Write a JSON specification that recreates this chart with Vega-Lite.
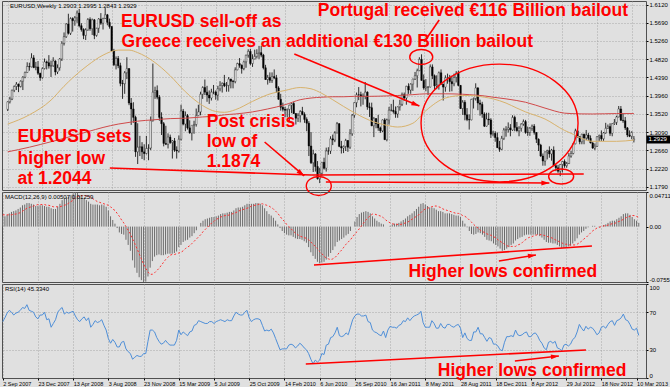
{
"$schema":"https://vega.github.io/schema/vega-lite/v6.json",
"background":"#e0e0e0",
"padding":{"left":0,"top":0,"right":0,"bottom":0},
"bounds":"flush",
"spacing":2,
"config":{
"view":{"stroke":"#505050","strokeWidth":1},
"font":"Liberation Sans",
"axis":{"labelFont":"Liberation Sans","labelFontSize":6,"labelColor":"#000000","tickColor":"#000000","domain":false,"gridColor":"#9a9a9a","gridDash":[1,2],"gridWidth":0.8,"labelOverlap":false}
},
"datasets":{
"px":[
{"d":"2007-09-02","o":1.363,"h":1.382,"l":1.359,"c":1.381,"m":0.014,"s":0.016,"r":60},
{"d":"2007-09-09","o":1.381,"h":1.3925,"l":1.377,"c":1.3875,"m":0.014,"s":0.016,"r":64},
{"d":"2007-09-16","o":1.3875,"h":1.41,"l":1.385,"c":1.4085,"m":0.016,"s":0.016,"r":69},
{"d":"2007-09-23","o":1.4085,"h":1.42,"l":1.404,"c":1.4175,"m":0.018,"s":0.016,"r":72},
{"d":"2007-09-30","o":1.4175,"h":1.428,"l":1.409,"c":1.423,"m":0.02,"s":0.016,"r":70},
{"d":"2007-10-07","o":1.423,"h":1.4245,"l":1.404,"c":1.4175,"m":0.021,"s":0.017,"r":67},
{"d":"2007-10-14","o":1.4175,"h":1.432,"l":1.415,"c":1.43,"m":0.022,"s":0.017,"r":69},
{"d":"2007-10-21","o":1.43,"h":1.442,"l":1.409,"c":1.4395,"m":0.024,"s":0.018,"r":70},
{"d":"2007-10-28","o":1.4395,"h":1.453,"l":1.437,"c":1.4505,"m":0.026,"s":0.019,"r":72},
{"d":"2007-11-04","o":1.4505,"h":1.475,"l":1.45,"c":1.465,"m":0.029,"s":0.021,"r":75},
{"d":"2007-11-11","o":1.465,"h":1.474,"l":1.455,"c":1.464,"m":0.03,"s":0.023,"r":74},
{"d":"2007-11-18","o":1.464,"h":1.4965,"l":1.463,"c":1.4855,"m":0.032,"s":0.025,"r":78},
{"d":"2007-11-25","o":1.4855,"h":1.492,"l":1.461,"c":1.4625,"m":0.032,"s":0.026,"r":72},
{"d":"2007-12-02","o":1.4625,"h":1.476,"l":1.456,"c":1.464,"m":0.031,"s":0.027,"r":71},
{"d":"2007-12-09","o":1.464,"h":1.478,"l":1.445,"c":1.449,"m":0.03,"s":0.028,"r":70},
{"d":"2007-12-16","o":1.449,"h":1.45,"l":1.431,"c":1.4385,"m":0.028,"s":0.029,"r":65},
{"d":"2007-12-23","o":1.4385,"h":1.463,"l":1.436,"c":1.46,"m":0.028,"s":0.03,"r":63},
{"d":"2007-12-30","o":1.46,"h":1.484,"l":1.458,"c":1.476,"m":0.029,"s":0.03,"r":67},
{"d":"2008-01-06","o":1.476,"h":1.479,"l":1.458,"c":1.474,"m":0.029,"s":0.03,"r":67},
{"d":"2008-01-13","o":1.474,"h":1.492,"l":1.46,"c":1.466,"m":0.028,"s":0.03,"r":70},
{"d":"2008-01-20","o":1.466,"h":1.479,"l":1.44,"c":1.467,"m":0.027,"s":0.029,"r":62},
{"d":"2008-01-27","o":1.467,"h":1.487,"l":1.464,"c":1.478,"m":0.027,"s":0.029,"r":63},
{"d":"2008-02-03","o":1.478,"h":1.48,"l":1.444,"c":1.452,"m":0.025,"s":0.028,"r":54},
{"d":"2008-02-10","o":1.452,"h":1.47,"l":1.447,"c":1.462,"m":0.024,"s":0.027,"r":58},
{"d":"2008-02-17","o":1.462,"h":1.485,"l":1.455,"c":1.483,"m":0.024,"s":0.027,"r":62},
{"d":"2008-02-24","o":1.483,"h":1.525,"l":1.478,"c":1.52,"m":0.027,"s":0.027,"r":70},
{"d":"2008-03-02","o":1.52,"h":1.546,"l":1.515,"c":1.536,"m":0.031,"s":0.027,"r":73},
{"d":"2008-03-09","o":1.536,"h":1.568,"l":1.533,"c":1.566,"m":0.036,"s":0.028,"r":75},
{"d":"2008-03-16","o":1.566,"h":1.5905,"l":1.541,"c":1.544,"m":0.038,"s":0.029,"r":68},
{"d":"2008-03-23","o":1.544,"h":1.582,"l":1.54,"c":1.579,"m":0.04,"s":0.03,"r":70},
{"d":"2008-03-30","o":1.579,"h":1.582,"l":1.548,"c":1.574,"m":0.041,"s":0.032,"r":69},
{"d":"2008-04-06","o":1.574,"h":1.585,"l":1.562,"c":1.581,"m":0.043,"s":0.034,"r":70},
{"d":"2008-04-13","o":1.581,"h":1.598,"l":1.569,"c":1.592,"m":0.045,"s":0.036,"r":71},
{"d":"2008-04-20","o":1.592,"h":1.602,"l":1.558,"c":1.562,"m":0.0471,"s":0.039,"r":66},
{"d":"2008-04-27","o":1.562,"h":1.568,"l":1.548,"c":1.553,"m":0.046,"s":0.041,"r":62},
{"d":"2008-05-04","o":1.553,"h":1.556,"l":1.53,"c":1.539,"m":0.042,"s":0.042,"r":60},
{"d":"2008-05-11","o":1.539,"h":1.556,"l":1.528,"c":1.552,"m":0.039,"s":0.042,"r":63},
{"d":"2008-05-18","o":1.552,"h":1.58,"l":1.55,"c":1.577,"m":0.038,"s":0.042,"r":65},
{"d":"2008-05-25","o":1.577,"h":1.582,"l":1.55,"c":1.555,"m":0.036,"s":0.042,"r":61},
{"d":"2008-06-01","o":1.555,"h":1.579,"l":1.54,"c":1.576,"m":0.034,"s":0.041,"r":64},
{"d":"2008-06-08","o":1.576,"h":1.578,"l":1.53,"c":1.539,"m":0.031,"s":0.04,"r":54},
{"d":"2008-06-15","o":1.539,"h":1.557,"l":1.536,"c":1.556,"m":0.03,"s":0.038,"r":57},
{"d":"2008-06-22","o":1.556,"h":1.58,"l":1.545,"c":1.578,"m":0.03,"s":0.036,"r":61},
{"d":"2008-06-29","o":1.578,"h":1.592,"l":1.564,"c":1.568,"m":0.03,"s":0.034,"r":59},
{"d":"2008-07-06","o":1.568,"h":1.581,"l":1.553,"c":1.579,"m":0.029,"s":0.033,"r":60},
{"d":"2008-07-13","o":1.579,"h":1.604,"l":1.578,"c":1.588,"m":0.03,"s":0.032,"r":62},
{"d":"2008-07-20","o":1.588,"h":1.59,"l":1.563,"c":1.57,"m":0.029,"s":0.031,"r":56},
{"d":"2008-07-27","o":1.57,"h":1.579,"l":1.555,"c":1.56,"m":0.027,"s":0.03,"r":51},
{"d":"2008-08-03","o":1.56,"h":1.561,"l":1.501,"c":1.502,"m":0.022,"s":0.029,"r":42},
{"d":"2008-08-10","o":1.502,"h":1.507,"l":1.466,"c":1.469,"m":0.014,"s":0.027,"r":37},
{"d":"2008-08-17","o":1.469,"h":1.489,"l":1.458,"c":1.484,"m":0.009,"s":0.024,"r":41},
{"d":"2008-08-24","o":1.484,"h":1.49,"l":1.461,"c":1.467,"m":0.004,"s":0.022,"r":38},
{"d":"2008-08-31","o":1.467,"h":1.474,"l":1.418,"c":1.425,"m":-0.002,"s":0.018,"r":33},
{"d":"2008-09-07","o":1.425,"h":1.433,"l":1.388,"c":1.424,"m":-0.008,"s":0.014,"r":33},
{"d":"2008-09-14","o":1.424,"h":1.454,"l":1.4,"c":1.45,"m":-0.01,"s":0.009,"r":38},
{"d":"2008-09-21","o":1.45,"h":1.487,"l":1.435,"c":1.46,"m":-0.011,"s":0.005,"r":39},
{"d":"2008-09-28","o":1.46,"h":1.461,"l":1.373,"c":1.378,"m":-0.018,"s":0,"r":31},
{"d":"2008-10-05","o":1.378,"h":1.39,"l":1.326,"c":1.364,"m":-0.025,"s":-0.005,"r":28},
{"d":"2008-10-12","o":1.364,"h":1.38,"l":1.331,"c":1.344,"m":-0.033,"s":-0.01,"r":26},
{"d":"2008-10-19","o":1.344,"h":1.348,"l":1.25,"c":1.262,"m":-0.046,"s":-0.017,"r":20},
{"d":"2008-10-26","o":1.262,"h":1.33,"l":1.233,"c":1.273,"m":-0.056,"s":-0.023,"r":22},
{"d":"2008-11-02","o":1.273,"h":1.3,"l":1.252,"c":1.274,"m":-0.063,"s":-0.03,"r":24},
{"d":"2008-11-09","o":1.274,"h":1.285,"l":1.245,"c":1.262,"m":-0.069,"s":-0.037,"r":23},
{"d":"2008-11-16","o":1.262,"h":1.28,"l":1.242,"c":1.258,"m":-0.073,"s":-0.044,"r":23},
{"d":"2008-11-23","o":1.258,"h":1.3,"l":1.256,"c":1.27,"m":-0.0755,"s":-0.051,"r":26},
{"d":"2008-11-30","o":1.27,"h":1.28,"l":1.242,"c":1.271,"m":-0.075,"s":-0.057,"r":26},
{"d":"2008-12-07","o":1.271,"h":1.346,"l":1.266,"c":1.336,"m":-0.068,"s":-0.062,"r":39},
{"d":"2008-12-14","o":1.336,"h":1.472,"l":1.334,"c":1.404,"m":-0.056,"s":-0.065,"r":51},
{"d":"2008-12-21","o":1.404,"h":1.417,"l":1.388,"c":1.408,"m":-0.047,"s":-0.065,"r":51},
{"d":"2008-12-28","o":1.408,"h":1.42,"l":1.387,"c":1.392,"m":-0.041,"s":-0.063,"r":49},
{"d":"2009-01-04","o":1.392,"h":1.397,"l":1.336,"c":1.344,"m":-0.039,"s":-0.06,"r":43},
{"d":"2009-01-11","o":1.344,"h":1.356,"l":1.302,"c":1.329,"m":-0.038,"s":-0.057,"r":39},
{"d":"2009-01-18","o":1.329,"h":1.333,"l":1.275,"c":1.282,"m":-0.039,"s":-0.053,"r":36},
{"d":"2009-01-25","o":1.282,"h":1.324,"l":1.278,"c":1.28,"m":-0.039,"s":-0.049,"r":37},
{"d":"2009-02-01","o":1.28,"h":1.306,"l":1.27,"c":1.297,"m":-0.038,"s":-0.045,"r":40},
{"d":"2009-02-08","o":1.297,"h":1.303,"l":1.281,"c":1.284,"m":-0.037,"s":-0.042,"r":37},
{"d":"2009-02-15","o":1.284,"h":1.29,"l":1.246,"c":1.288,"m":-0.037,"s":-0.039,"r":35},
{"d":"2009-02-22","o":1.288,"h":1.295,"l":1.262,"c":1.266,"m":-0.037,"s":-0.038,"r":35},
{"d":"2009-03-01","o":1.266,"h":1.275,"l":1.246,"c":1.264,"m":-0.036,"s":-0.038,"r":35},
{"d":"2009-03-08","o":1.264,"h":1.301,"l":1.26,"c":1.292,"m":-0.034,"s":-0.037,"r":40},
{"d":"2009-03-15","o":1.292,"h":1.374,"l":1.289,"c":1.359,"m":-0.028,"s":-0.036,"r":51},
{"d":"2009-03-22","o":1.359,"h":1.364,"l":1.325,"c":1.328,"m":-0.025,"s":-0.035,"r":46},
{"d":"2009-03-29","o":1.328,"h":1.358,"l":1.311,"c":1.348,"m":-0.021,"s":-0.033,"r":49},
{"d":"2009-04-05","o":1.348,"h":1.352,"l":1.315,"c":1.319,"m":-0.019,"s":-0.03,"r":47},
{"d":"2009-04-12","o":1.319,"h":1.337,"l":1.305,"c":1.307,"m":-0.018,"s":-0.028,"r":45},
{"d":"2009-04-19","o":1.307,"h":1.324,"l":1.289,"c":1.325,"m":-0.015,"s":-0.026,"r":49},
{"d":"2009-04-26","o":1.325,"h":1.336,"l":1.305,"c":1.327,"m":-0.013,"s":-0.023,"r":50},
{"d":"2009-05-03","o":1.327,"h":1.365,"l":1.322,"c":1.348,"m":-0.009,"s":-0.02,"r":56},
{"d":"2009-05-10","o":1.348,"h":1.374,"l":1.347,"c":1.357,"m":-0.005,"s":-0.017,"r":57},
{"d":"2009-05-17","o":1.357,"h":1.405,"l":1.349,"c":1.399,"m":0,"s":-0.014,"r":61},
{"d":"2009-05-24","o":1.399,"h":1.418,"l":1.388,"c":1.415,"m":0.005,"s":-0.011,"r":60},
{"d":"2009-05-31","o":1.415,"h":1.434,"l":1.397,"c":1.404,"m":0.008,"s":-0.007,"r":59},
{"d":"2009-06-07","o":1.404,"h":1.419,"l":1.381,"c":1.397,"m":0.01,"s":-0.004,"r":58},
{"d":"2009-06-14","o":1.397,"h":1.408,"l":1.376,"c":1.39,"m":0.011,"s":-0.001,"r":58},
{"d":"2009-06-21","o":1.39,"h":1.412,"l":1.384,"c":1.404,"m":0.012,"s":0.002,"r":60},
{"d":"2009-06-28","o":1.404,"h":1.421,"l":1.399,"c":1.404,"m":0.013,"s":0.005,"r":60},
{"d":"2009-07-05","o":1.404,"h":1.408,"l":1.386,"c":1.397,"m":0.013,"s":0.007,"r":58},
{"d":"2009-07-12","o":1.397,"h":1.419,"l":1.384,"c":1.412,"m":0.014,"s":0.01,"r":60},
{"d":"2009-07-19","o":1.412,"h":1.43,"l":1.406,"c":1.42,"m":0.015,"s":0.011,"r":61},
{"d":"2009-07-26","o":1.42,"h":1.427,"l":1.403,"c":1.425,"m":0.017,"s":0.013,"r":62},
{"d":"2009-08-02","o":1.425,"h":1.445,"l":1.416,"c":1.419,"m":0.018,"s":0.014,"r":61},
{"d":"2009-08-09","o":1.419,"h":1.428,"l":1.405,"c":1.42,"m":0.018,"s":0.015,"r":60},
{"d":"2009-08-16","o":1.42,"h":1.44,"l":1.405,"c":1.435,"m":0.019,"s":0.015,"r":62},
{"d":"2009-08-23","o":1.435,"h":1.436,"l":1.413,"c":1.43,"m":0.02,"s":0.016,"r":61},
{"d":"2009-08-30","o":1.43,"h":1.433,"l":1.413,"c":1.429,"m":0.02,"s":0.017,"r":61},
{"d":"2009-09-06","o":1.429,"h":1.463,"l":1.425,"c":1.457,"m":0.022,"s":0.018,"r":66},
{"d":"2009-09-13","o":1.457,"h":1.474,"l":1.456,"c":1.472,"m":0.025,"s":0.019,"r":70},
{"d":"2009-09-20","o":1.472,"h":1.485,"l":1.462,"c":1.468,"m":0.026,"s":0.021,"r":68},
{"d":"2009-09-27","o":1.468,"h":1.47,"l":1.448,"c":1.46,"m":0.026,"s":0.022,"r":67},
{"d":"2009-10-04","o":1.46,"h":1.479,"l":1.456,"c":1.476,"m":0.027,"s":0.023,"r":67},
{"d":"2009-10-11","o":1.476,"h":1.493,"l":1.462,"c":1.492,"m":0.029,"s":0.024,"r":70},
{"d":"2009-10-18","o":1.492,"h":1.506,"l":1.486,"c":1.501,"m":0.031,"s":0.025,"r":72},
{"d":"2009-10-25","o":1.501,"h":1.507,"l":1.468,"c":1.472,"m":0.031,"s":0.026,"r":64},
{"d":"2009-11-01","o":1.472,"h":1.494,"l":1.464,"c":1.483,"m":0.031,"s":0.028,"r":60},
{"d":"2009-11-08","o":1.483,"h":1.505,"l":1.482,"c":1.489,"m":0.031,"s":0.029,"r":62},
{"d":"2009-11-15","o":1.489,"h":1.506,"l":1.484,"c":1.496,"m":0.032,"s":0.029,"r":63},
{"d":"2009-11-22","o":1.496,"h":1.514,"l":1.483,"c":1.498,"m":0.032,"s":0.03,"r":63},
{"d":"2009-11-29","o":1.498,"h":1.514,"l":1.487,"c":1.492,"m":0.031,"s":0.031,"r":62},
{"d":"2009-12-06","o":1.492,"h":1.495,"l":1.458,"c":1.462,"m":0.029,"s":0.031,"r":56},
{"d":"2009-12-13","o":1.462,"h":1.469,"l":1.433,"c":1.434,"m":0.025,"s":0.03,"r":50},
{"d":"2009-12-20","o":1.434,"h":1.445,"l":1.422,"c":1.439,"m":0.021,"s":0.029,"r":51},
{"d":"2009-12-27","o":1.439,"h":1.451,"l":1.426,"c":1.432,"m":0.017,"s":0.028,"r":50},
{"d":"2010-01-03","o":1.432,"h":1.451,"l":1.426,"c":1.441,"m":0.015,"s":0.026,"r":52},
{"d":"2010-01-10","o":1.441,"h":1.458,"l":1.435,"c":1.438,"m":0.012,"s":0.024,"r":48},
{"d":"2010-01-17","o":1.438,"h":1.445,"l":1.403,"c":1.414,"m":0.008,"s":0.021,"r":42},
{"d":"2010-01-24","o":1.414,"h":1.418,"l":1.386,"c":1.387,"m":0.003,"s":0.018,"r":36},
{"d":"2010-01-31","o":1.387,"h":1.4,"l":1.36,"c":1.368,"m":-0.002,"s":0.014,"r":30},
{"d":"2010-02-07","o":1.368,"h":1.379,"l":1.358,"c":1.363,"m":-0.006,"s":0.01,"r":31},
{"d":"2010-02-14","o":1.363,"h":1.369,"l":1.344,"c":1.361,"m":-0.009,"s":0.007,"r":31},
{"d":"2010-02-21","o":1.361,"h":1.365,"l":1.344,"c":1.363,"m":-0.011,"s":0.003,"r":31},
{"d":"2010-02-28","o":1.363,"h":1.374,"l":1.333,"c":1.373,"m":-0.012,"s":0,"r":35},
{"d":"2010-03-07","o":1.373,"h":1.379,"l":1.354,"c":1.377,"m":-0.012,"s":-0.003,"r":36},
{"d":"2010-03-14","o":1.377,"h":1.381,"l":1.352,"c":1.353,"m":-0.014,"s":-0.006,"r":35},
{"d":"2010-03-21","o":1.353,"h":1.354,"l":1.327,"c":1.342,"m":-0.016,"s":-0.009,"r":32},
{"d":"2010-03-28","o":1.342,"h":1.354,"l":1.333,"c":1.348,"m":-0.017,"s":-0.011,"r":34},
{"d":"2010-04-04","o":1.348,"h":1.361,"l":1.332,"c":1.358,"m":-0.017,"s":-0.013,"r":37},
{"d":"2010-04-11","o":1.358,"h":1.369,"l":1.349,"c":1.351,"m":-0.018,"s":-0.014,"r":35},
{"d":"2010-04-18","o":1.351,"h":1.356,"l":1.331,"c":1.339,"m":-0.02,"s":-0.015,"r":32},
{"d":"2010-04-25","o":1.339,"h":1.344,"l":1.311,"c":1.33,"m":-0.022,"s":-0.016,"r":30},
{"d":"2010-05-02","o":1.33,"h":1.335,"l":1.252,"c":1.276,"m":-0.028,"s":-0.018,"r":26},
{"d":"2010-05-09","o":1.276,"h":1.309,"l":1.233,"c":1.236,"m":-0.035,"s":-0.021,"r":20},
{"d":"2010-05-16","o":1.236,"h":1.267,"l":1.214,"c":1.257,"m":-0.04,"s":-0.024,"r":15},
{"d":"2010-05-23","o":1.257,"h":1.259,"l":1.215,"c":1.227,"m":-0.044,"s":-0.027,"r":19},
{"d":"2010-05-30","o":1.227,"h":1.24,"l":1.196,"c":1.198,"m":-0.048,"s":-0.03,"r":17},
{"d":"2010-06-06","o":1.198,"h":1.224,"l":1.1876,"c":1.211,"m":-0.05,"s":-0.034,"r":19},
{"d":"2010-06-13","o":1.211,"h":1.238,"l":1.204,"c":1.237,"m":-0.049,"s":-0.037,"r":26},
{"d":"2010-06-20","o":1.237,"h":1.248,"l":1.22,"c":1.223,"m":-0.048,"s":-0.04,"r":25},
{"d":"2010-06-27","o":1.223,"h":1.272,"l":1.215,"c":1.264,"m":-0.045,"s":-0.043,"r":35},
{"d":"2010-07-04","o":1.264,"h":1.273,"l":1.255,"c":1.264,"m":-0.041,"s":-0.044,"r":36},
{"d":"2010-07-11","o":1.264,"h":1.299,"l":1.257,"c":1.293,"m":-0.036,"s":-0.045,"r":43},
{"d":"2010-07-18","o":1.293,"h":1.303,"l":1.278,"c":1.29,"m":-0.032,"s":-0.044,"r":44},
{"d":"2010-07-25","o":1.29,"h":1.311,"l":1.285,"c":1.307,"m":-0.027,"s":-0.042,"r":48},
{"d":"2010-08-01","o":1.307,"h":1.333,"l":1.306,"c":1.329,"m":-0.021,"s":-0.039,"r":54},
{"d":"2010-08-08","o":1.329,"h":1.33,"l":1.273,"c":1.275,"m":-0.019,"s":-0.035,"r":45},
{"d":"2010-08-15","o":1.275,"h":1.288,"l":1.258,"c":1.271,"m":-0.017,"s":-0.032,"r":44},
{"d":"2010-08-22","o":1.271,"h":1.277,"l":1.259,"c":1.275,"m":-0.015,"s":-0.028,"r":45},
{"d":"2010-08-29","o":1.275,"h":1.293,"l":1.264,"c":1.289,"m":-0.012,"s":-0.024,"r":48},
{"d":"2010-09-05","o":1.289,"h":1.29,"l":1.262,"c":1.273,"m":-0.01,"s":-0.021,"r":46},
{"d":"2010-09-12","o":1.273,"h":1.316,"l":1.269,"c":1.305,"m":-0.006,"s":-0.018,"r":54},
{"d":"2010-09-19","o":1.305,"h":1.352,"l":1.3,"c":1.349,"m":0,"s":-0.014,"r":62},
{"d":"2010-09-26","o":1.349,"h":1.38,"l":1.343,"c":1.379,"m":0.007,"s":-0.01,"r":66},
{"d":"2010-10-03","o":1.379,"h":1.403,"l":1.368,"c":1.398,"m":0.013,"s":-0.007,"r":68},
{"d":"2010-10-10","o":1.398,"h":1.416,"l":1.385,"c":1.398,"m":0.017,"s":-0.003,"r":68},
{"d":"2010-10-17","o":1.398,"h":1.405,"l":1.37,"c":1.394,"m":0.019,"s":0.001,"r":66},
{"d":"2010-10-24","o":1.394,"h":1.401,"l":1.374,"c":1.394,"m":0.02,"s":0.005,"r":66},
{"d":"2010-10-31","o":1.394,"h":1.428,"l":1.387,"c":1.404,"m":0.021,"s":0.009,"r":67},
{"d":"2010-11-07","o":1.404,"h":1.406,"l":1.362,"c":1.369,"m":0.02,"s":0.012,"r":60},
{"d":"2010-11-14","o":1.369,"h":1.379,"l":1.345,"c":1.367,"m":0.018,"s":0.015,"r":59},
{"d":"2010-11-21","o":1.367,"h":1.379,"l":1.323,"c":1.324,"m":0.014,"s":0.017,"r":51},
{"d":"2010-11-28","o":1.324,"h":1.345,"l":1.297,"c":1.341,"m":0.011,"s":0.017,"r":49},
{"d":"2010-12-05","o":1.341,"h":1.342,"l":1.318,"c":1.329,"m":0.008,"s":0.016,"r":48},
{"d":"2010-12-12","o":1.329,"h":1.35,"l":1.312,"c":1.319,"m":0.006,"s":0.015,"r":46},
{"d":"2010-12-19","o":1.319,"h":1.322,"l":1.307,"c":1.312,"m":0.004,"s":0.014,"r":45},
{"d":"2010-12-26","o":1.312,"h":1.339,"l":1.309,"c":1.338,"m":0.003,"s":0.012,"r":50},
{"d":"2011-01-02","o":1.338,"h":1.342,"l":1.29,"c":1.291,"m":0,"s":0.009,"r":43},
{"d":"2011-01-09","o":1.291,"h":1.341,"l":1.287,"c":1.338,"m":0,"s":0.007,"r":51},
{"d":"2011-01-16","o":1.338,"h":1.369,"l":1.327,"c":1.361,"m":0.001,"s":0.005,"r":55},
{"d":"2011-01-23","o":1.361,"h":1.376,"l":1.358,"c":1.361,"m":0.003,"s":0.004,"r":54},
{"d":"2011-01-30","o":1.361,"h":1.386,"l":1.353,"c":1.358,"m":0.004,"s":0.003,"r":54},
{"d":"2011-02-06","o":1.358,"h":1.37,"l":1.343,"c":1.352,"m":0.004,"s":0.003,"r":53},
{"d":"2011-02-13","o":1.352,"h":1.37,"l":1.343,"c":1.369,"m":0.005,"s":0.003,"r":56},
{"d":"2011-02-20","o":1.369,"h":1.386,"l":1.36,"c":1.375,"m":0.007,"s":0.003,"r":57},
{"d":"2011-02-27","o":1.375,"h":1.403,"l":1.371,"c":1.398,"m":0.009,"s":0.004,"r":61},
{"d":"2011-03-06","o":1.398,"h":1.403,"l":1.383,"c":1.39,"m":0.011,"s":0.005,"r":60},
{"d":"2011-03-13","o":1.39,"h":1.419,"l":1.374,"c":1.418,"m":0.014,"s":0.006,"r":64},
{"d":"2011-03-20","o":1.418,"h":1.425,"l":1.4,"c":1.409,"m":0.016,"s":0.008,"r":61},
{"d":"2011-03-27","o":1.409,"h":1.425,"l":1.4,"c":1.423,"m":0.018,"s":0.01,"r":64},
{"d":"2011-04-03","o":1.423,"h":1.436,"l":1.407,"c":1.435,"m":0.021,"s":0.012,"r":66},
{"d":"2011-04-10","o":1.435,"h":1.452,"l":1.433,"c":1.443,"m":0.024,"s":0.014,"r":67},
{"d":"2011-04-17","o":1.443,"h":1.46,"l":1.415,"c":1.455,"m":0.027,"s":0.016,"r":68},
{"d":"2011-04-24","o":1.455,"h":1.487,"l":1.454,"c":1.482,"m":0.031,"s":0.019,"r":71},
{"d":"2011-05-01","o":1.482,"h":1.494,"l":1.431,"c":1.432,"m":0.032,"s":0.022,"r":59},
{"d":"2011-05-08","o":1.432,"h":1.446,"l":1.41,"c":1.414,"m":0.03,"s":0.024,"r":54},
{"d":"2011-05-15","o":1.414,"h":1.435,"l":1.406,"c":1.416,"m":0.028,"s":0.025,"r":54},
{"d":"2011-05-22","o":1.416,"h":1.418,"l":1.397,"c":1.416,"m":0.026,"s":0.026,"r":54},
{"d":"2011-05-29","o":1.416,"h":1.47,"l":1.415,"c":1.464,"m":0.026,"s":0.027,"r":61},
{"d":"2011-06-05","o":1.464,"h":1.47,"l":1.435,"c":1.443,"m":0.025,"s":0.028,"r":58},
{"d":"2011-06-12","o":1.443,"h":1.446,"l":1.408,"c":1.419,"m":0.023,"s":0.028,"r":53},
{"d":"2011-06-19","o":1.419,"h":1.444,"l":1.411,"c":1.421,"m":0.021,"s":0.027,"r":53},
{"d":"2011-06-26","o":1.421,"h":1.453,"l":1.41,"c":1.45,"m":0.021,"s":0.026,"r":58},
{"d":"2011-07-03","o":1.45,"h":1.458,"l":1.422,"c":1.423,"m":0.02,"s":0.024,"r":54},
{"d":"2011-07-10","o":1.423,"h":1.424,"l":1.384,"c":1.416,"m":0.018,"s":0.023,"r":53},
{"d":"2011-07-17","o":1.416,"h":1.444,"l":1.405,"c":1.438,"m":0.018,"s":0.022,"r":57},
{"d":"2011-07-24","o":1.438,"h":1.448,"l":1.424,"c":1.439,"m":0.018,"s":0.021,"r":57},
{"d":"2011-07-31","o":1.439,"h":1.445,"l":1.405,"c":1.429,"m":0.017,"s":0.02,"r":55},
{"d":"2011-08-07","o":1.429,"h":1.443,"l":1.406,"c":1.424,"m":0.016,"s":0.019,"r":54},
{"d":"2011-08-14","o":1.424,"h":1.448,"l":1.418,"c":1.439,"m":0.015,"s":0.018,"r":56},
{"d":"2011-08-21","o":1.439,"h":1.454,"l":1.427,"c":1.449,"m":0.015,"s":0.018,"r":57},
{"d":"2011-08-28","o":1.449,"h":1.455,"l":1.418,"c":1.42,"m":0.013,"s":0.017,"r":53},
{"d":"2011-09-04","o":1.42,"h":1.421,"l":1.364,"c":1.365,"m":0.008,"s":0.015,"r":43},
{"d":"2011-09-11","o":1.365,"h":1.385,"l":1.35,"c":1.38,"m":0.004,"s":0.014,"r":48},
{"d":"2011-09-18","o":1.38,"h":1.385,"l":1.337,"c":1.35,"m":-0.001,"s":0.012,"r":42},
{"d":"2011-09-25","o":1.35,"h":1.366,"l":1.335,"c":1.339,"m":-0.006,"s":0.009,"r":40},
{"d":"2011-10-02","o":1.339,"h":1.351,"l":1.315,"c":1.338,"m":-0.01,"s":0.006,"r":40},
{"d":"2011-10-09","o":1.338,"h":1.388,"l":1.337,"c":1.387,"m":-0.011,"s":0.003,"r":49},
{"d":"2011-10-16","o":1.387,"h":1.391,"l":1.365,"c":1.389,"m":-0.01,"s":0,"r":49},
{"d":"2011-10-23","o":1.389,"h":1.425,"l":1.384,"c":1.414,"m":-0.008,"s":-0.002,"r":54},
{"d":"2011-10-30","o":1.414,"h":1.416,"l":1.361,"c":1.378,"m":-0.009,"s":-0.005,"r":47},
{"d":"2011-11-06","o":1.378,"h":1.386,"l":1.348,"c":1.375,"m":-0.011,"s":-0.007,"r":47},
{"d":"2011-11-13","o":1.375,"h":1.381,"l":1.343,"c":1.352,"m":-0.014,"s":-0.008,"r":43},
{"d":"2011-11-20","o":1.352,"h":1.356,"l":1.321,"c":1.323,"m":-0.018,"s":-0.01,"r":39},
{"d":"2011-11-27","o":1.323,"h":1.355,"l":1.322,"c":1.34,"m":-0.019,"s":-0.011,"r":43},
{"d":"2011-12-04","o":1.34,"h":1.355,"l":1.326,"c":1.338,"m":-0.02,"s":-0.012,"r":42},
{"d":"2011-12-11","o":1.338,"h":1.342,"l":1.295,"c":1.304,"m":-0.023,"s":-0.014,"r":36},
{"d":"2011-12-18","o":1.304,"h":1.312,"l":1.299,"c":1.306,"m":-0.025,"s":-0.015,"r":36},
{"d":"2011-12-25","o":1.306,"h":1.311,"l":1.286,"c":1.296,"m":-0.027,"s":-0.018,"r":34},
{"d":"2012-01-01","o":1.296,"h":1.308,"l":1.271,"c":1.272,"m":-0.03,"s":-0.02,"r":30},
{"d":"2012-01-08","o":1.272,"h":1.288,"l":1.262,"c":1.268,"m":-0.033,"s":-0.022,"r":29},
{"d":"2012-01-15","o":1.268,"h":1.3,"l":1.266,"c":1.294,"m":-0.032,"s":-0.024,"r":38},
{"d":"2012-01-22","o":1.294,"h":1.319,"l":1.29,"c":1.314,"m":-0.03,"s":-0.026,"r":44},
{"d":"2012-01-29","o":1.314,"h":1.323,"l":1.298,"c":1.315,"m":-0.028,"s":-0.027,"r":44},
{"d":"2012-02-05","o":1.315,"h":1.332,"l":1.308,"c":1.319,"m":-0.025,"s":-0.027,"r":45},
{"d":"2012-02-12","o":1.319,"h":1.328,"l":1.299,"c":1.314,"m":-0.023,"s":-0.027,"r":44},
{"d":"2012-02-19","o":1.314,"h":1.349,"l":1.312,"c":1.344,"m":-0.019,"s":-0.027,"r":51},
{"d":"2012-02-26","o":1.344,"h":1.348,"l":1.311,"c":1.32,"m":-0.017,"s":-0.025,"r":46},
{"d":"2012-03-04","o":1.32,"h":1.333,"l":1.31,"c":1.312,"m":-0.015,"s":-0.024,"r":45},
{"d":"2012-03-11","o":1.312,"h":1.323,"l":1.299,"c":1.318,"m":-0.014,"s":-0.022,"r":46},
{"d":"2012-03-18","o":1.318,"h":1.33,"l":1.31,"c":1.328,"m":-0.012,"s":-0.019,"r":48},
{"d":"2012-03-25","o":1.328,"h":1.339,"l":1.324,"c":1.334,"m":-0.011,"s":-0.017,"r":49},
{"d":"2012-04-01","o":1.334,"h":1.338,"l":1.305,"c":1.308,"m":-0.011,"s":-0.015,"r":44},
{"d":"2012-04-08","o":1.308,"h":1.322,"l":1.3,"c":1.308,"m":-0.011,"s":-0.014,"r":44},
{"d":"2012-04-15","o":1.308,"h":1.321,"l":1.3,"c":1.318,"m":-0.011,"s":-0.013,"r":47},
{"d":"2012-04-22","o":1.318,"h":1.327,"l":1.312,"c":1.323,"m":-0.011,"s":-0.012,"r":48},
{"d":"2012-04-29","o":1.323,"h":1.328,"l":1.303,"c":1.308,"m":-0.011,"s":-0.011,"r":45},
{"d":"2012-05-06","o":1.308,"h":1.309,"l":1.283,"c":1.292,"m":-0.013,"s":-0.011,"r":40},
{"d":"2012-05-13","o":1.292,"h":1.294,"l":1.264,"c":1.278,"m":-0.015,"s":-0.011,"r":37},
{"d":"2012-05-20","o":1.278,"h":1.281,"l":1.25,"c":1.252,"m":-0.018,"s":-0.012,"r":32},
{"d":"2012-05-27","o":1.252,"h":1.258,"l":1.229,"c":1.24,"m":-0.021,"s":-0.013,"r":30},
{"d":"2012-06-03","o":1.24,"h":1.263,"l":1.229,"c":1.262,"m":-0.022,"s":-0.014,"r":38},
{"d":"2012-06-10","o":1.262,"h":1.267,"l":1.244,"c":1.265,"m":-0.022,"s":-0.015,"r":39},
{"d":"2012-06-17","o":1.265,"h":1.275,"l":1.248,"c":1.257,"m":-0.023,"s":-0.016,"r":37},
{"d":"2012-06-24","o":1.257,"h":1.269,"l":1.241,"c":1.266,"m":-0.023,"s":-0.018,"r":39},
{"d":"2012-07-01","o":1.266,"h":1.275,"l":1.228,"c":1.229,"m":-0.025,"s":-0.019,"r":32},
{"d":"2012-07-08","o":1.229,"h":1.232,"l":1.216,"c":1.224,"m":-0.027,"s":-0.021,"r":31},
{"d":"2012-07-15","o":1.224,"h":1.231,"l":1.212,"c":1.216,"m":-0.029,"s":-0.022,"r":29},
{"d":"2012-07-22","o":1.216,"h":1.233,"l":1.2042,"c":1.232,"m":-0.029,"s":-0.024,"r":35},
{"d":"2012-07-29","o":1.232,"h":1.24,"l":1.213,"c":1.239,"m":-0.028,"s":-0.024,"r":36},
{"d":"2012-08-05","o":1.239,"h":1.244,"l":1.224,"c":1.229,"m":-0.027,"s":-0.025,"r":34},
{"d":"2012-08-12","o":1.229,"h":1.238,"l":1.224,"c":1.234,"m":-0.026,"s":-0.025,"r":36},
{"d":"2012-08-19","o":1.234,"h":1.259,"l":1.233,"c":1.252,"m":-0.023,"s":-0.025,"r":41},
{"d":"2012-08-26","o":1.252,"h":1.264,"l":1.248,"c":1.258,"m":-0.02,"s":-0.025,"r":43},
{"d":"2012-09-02","o":1.258,"h":1.282,"l":1.256,"c":1.281,"m":-0.016,"s":-0.024,"r":49},
{"d":"2012-09-09","o":1.281,"h":1.317,"l":1.28,"c":1.312,"m":-0.011,"s":-0.022,"r":57},
{"d":"2012-09-16","o":1.312,"h":1.317,"l":1.296,"c":1.298,"m":-0.008,"s":-0.02,"r":53},
{"d":"2012-09-23","o":1.298,"h":1.299,"l":1.28,"c":1.286,"m":-0.006,"s":-0.017,"r":50},
{"d":"2012-09-30","o":1.286,"h":1.305,"l":1.28,"c":1.304,"m":-0.003,"s":-0.015,"r":55},
{"d":"2012-10-07","o":1.304,"h":1.305,"l":1.28,"c":1.295,"m":-0.001,"s":-0.012,"r":52},
{"d":"2012-10-14","o":1.295,"h":1.314,"l":1.29,"c":1.302,"m":0,"s":-0.009,"r":54},
{"d":"2012-10-21","o":1.302,"h":1.307,"l":1.288,"c":1.294,"m":0.001,"s":-0.006,"r":53},
{"d":"2012-10-28","o":1.294,"h":1.301,"l":1.282,"c":1.283,"m":0.001,"s":-0.004,"r":50},
{"d":"2012-11-04","o":1.283,"h":1.286,"l":1.269,"c":1.271,"m":0,"s":-0.002,"r":46},
{"d":"2012-11-11","o":1.271,"h":1.282,"l":1.266,"c":1.275,"m":-0.001,"s":-0.001,"r":48},
{"d":"2012-11-18","o":1.275,"h":1.299,"l":1.274,"c":1.298,"m":0,"s":0,"r":54},
{"d":"2012-11-25","o":1.298,"h":1.303,"l":1.288,"c":1.301,"m":0.002,"s":0.001,"r":55},
{"d":"2012-12-02","o":1.301,"h":1.313,"l":1.288,"c":1.293,"m":0.003,"s":0.001,"r":53},
{"d":"2012-12-09","o":1.293,"h":1.309,"l":1.288,"c":1.307,"m":0.005,"s":0.002,"r":57},
{"d":"2012-12-16","o":1.307,"h":1.331,"l":1.305,"c":1.318,"m":0.007,"s":0.003,"r":60},
{"d":"2012-12-23","o":1.318,"h":1.327,"l":1.317,"c":1.322,"m":0.008,"s":0.004,"r":61},
{"d":"2012-12-30","o":1.322,"h":1.33,"l":1.3,"c":1.306,"m":0.008,"s":0.004,"r":56},
{"d":"2013-01-06","o":1.306,"h":1.33,"l":1.299,"c":1.329,"m":0.01,"s":0.006,"r":61},
{"d":"2013-01-13","o":1.329,"h":1.34,"l":1.326,"c":1.332,"m":0.012,"s":0.007,"r":62},
{"d":"2013-01-20","o":1.332,"h":1.348,"l":1.326,"c":1.345,"m":0.014,"s":0.008,"r":64},
{"d":"2013-01-27","o":1.345,"h":1.371,"l":1.344,"c":1.364,"m":0.017,"s":0.01,"r":68},
{"d":"2013-02-03","o":1.364,"h":1.371,"l":1.336,"c":1.337,"m":0.018,"s":0.012,"r":62},
{"d":"2013-02-10","o":1.337,"h":1.352,"l":1.331,"c":1.336,"m":0.018,"s":0.013,"r":61},
{"d":"2013-02-17","o":1.336,"h":1.345,"l":1.314,"c":1.319,"m":0.016,"s":0.014,"r":57},
{"d":"2013-02-24","o":1.319,"h":1.321,"l":1.297,"c":1.302,"m":0.013,"s":0.015,"r":52},
{"d":"2013-03-03","o":1.302,"h":1.313,"l":1.297,"c":1.299,"m":0.01,"s":0.015,"r":51},
{"d":"2013-03-10","o":1.299,"h":1.311,"l":1.292,"c":1.308,"m":0.008,"s":0.0138,"r":53},
{"d":"2013-03-17","o":1.2903,"h":1.2995,"l":1.2843,"c":1.2929,"m":0.00507,"s":0.01259,"r":45.334}
],
"ma":[
{"d":"2007-09-02","a":1.328,"b":1.262},{"d":"2007-11-11","a":1.35,"b":1.273},{"d":"2008-01-20","a":1.385,"b":1.286},{"d":"2008-03-02","a":1.418,"b":1.294},{"d":"2008-03-30","a":1.438,"b":1.3},{"d":"2008-05-18","a":1.468,"b":1.31},{"d":"2008-07-06","a":1.492,"b":1.32},{"d":"2008-08-24","a":1.504,"b":1.328},{"d":"2008-09-28","a":1.504,"b":1.332},{"d":"2008-10-26","a":1.498,"b":1.335},{"d":"2008-12-14","a":1.478,"b":1.338},{"d":"2009-02-08","a":1.443,"b":1.341},{"d":"2009-03-29","a":1.405,"b":1.342},{"d":"2009-05-24","a":1.372,"b":1.345},{"d":"2009-07-05","a":1.358,"b":1.347},{"d":"2009-08-02","a":1.356,"b":1.35},{"d":"2009-09-06","a":1.362,"b":1.352},{"d":"2009-11-01","a":1.382,"b":1.357},{"d":"2009-12-20","a":1.398,"b":1.364},{"d":"2010-02-14","a":1.408,"b":1.374},{"d":"2010-04-04","a":1.415,"b":1.386},{"d":"2010-05-09","a":1.412,"b":1.39},{"d":"2010-06-13","a":1.401,"b":1.392},{"d":"2010-07-18","a":1.386,"b":1.393},{"d":"2010-08-22","a":1.37,"b":1.393},{"d":"2010-09-26","a":1.355,"b":1.394},{"d":"2010-11-14","a":1.337,"b":1.394},{"d":"2011-01-09","a":1.325,"b":1.395},{"d":"2011-02-13","a":1.321,"b":1.396},{"d":"2011-04-03","a":1.33,"b":1.398},{"d":"2011-05-15","a":1.36,"b":1.4},{"d":"2011-07-17","a":1.39,"b":1.4},{"d":"2011-09-11","a":1.396,"b":1.399},{"d":"2011-10-02","a":1.396,"b":1.398},{"d":"2011-11-20","a":1.392,"b":1.395},{"d":"2011-12-18","a":1.388,"b":1.392},{"d":"2012-01-29","a":1.378,"b":1.388},{"d":"2012-03-04","a":1.366,"b":1.384},{"d":"2012-04-01","a":1.357,"b":1.38},{"d":"2012-06-03","a":1.34,"b":1.366},{"d":"2012-08-05","a":1.313,"b":1.354},{"d":"2012-08-26","a":1.306,"b":1.353},{"d":"2012-11-04","a":1.287,"b":1.352},{"d":"2013-01-20","a":1.287,"b":1.353},{"d":"2013-03-17","a":1.29,"b":1.353}
]
},
"vconcat":[
{
"width":644,"height":189,
"resolve":{"scale":{"y":"independent"}},
"layer":[
{
"data":{"name":"px"},
"layer":[
{"mark":{"type":"rule","strokeWidth":0.8,"color":"#000000"},
"encoding":{
"x":{"field":"d","type":"temporal","title":null,"scale":{"type":"utc","domain":[{"year":2007,"month":8,"date":30,"hours":18,"utc":true},{"year":2013,"month":4,"date":9,"utc":true}]},
"axis":{"values":[{"year":2007,"month":9,"date":2,"utc":true},{"year":2007,"month":12,"date":23,"utc":true},{"year":2008,"month":4,"date":13,"utc":true},{"year":2008,"month":8,"date":3,"utc":true},{"year":2008,"month":11,"date":23,"utc":true},{"year":2009,"month":3,"date":15,"utc":true},{"year":2009,"month":7,"date":5,"utc":true},{"year":2009,"month":10,"date":25,"utc":true},{"year":2010,"month":2,"date":14,"utc":true},{"year":2010,"month":6,"date":6,"utc":true},{"year":2010,"month":9,"date":26,"utc":true},{"year":2011,"month":1,"date":16,"utc":true},{"year":2011,"month":5,"date":8,"utc":true},{"year":2011,"month":8,"date":28,"utc":true},{"year":2011,"month":12,"date":18,"utc":true},{"year":2012,"month":4,"date":8,"utc":true},{"year":2012,"month":7,"date":29,"utc":true},{"year":2012,"month":11,"date":18,"utc":true},{"year":2013,"month":3,"date":10,"utc":true}],"tickCount":100,"labels":false,"ticks":false,"grid":true,"labelOverlap":false}},
"y":{"field":"l","type":"quantitative","title":null,"scale":{"domain":[1.1712,1.6208],"zero":false,"nice":false},
"axis":{"orient":"right","title":null,"values":[1.612,1.569,1.526,1.482,1.439,1.396,1.352,1.309,1.266,1.222,1.179],"tickCount":100,"format":".4f","grid":true,"tickSize":2,"labelPadding":1,"labelOverlap":false,"labelBound":false}},
"y2":{"field":"h"}}},
{"mark":{"type":"bar","width":1.6,"stroke":"#000000","strokeWidth":0.4},
"encoding":{"x":{"field":"d","type":"temporal"},"y":{"field":"o","type":"quantitative"},"y2":{"field":"c"},
"color":{"condition":{"test":"datum.c >= datum.o","value":"#ffffff"},"value":"#000000"}}},
{"data":{"name":"ma"},"mark":{"type":"line","color":"#d04a4a","strokeWidth":1,"interpolate":"monotone"},
"encoding":{"x":{"field":"d","type":"temporal"},"y":{"field":"b","type":"quantitative"}}},
{"data":{"name":"ma"},"mark":{"type":"line","color":"#d8b26c","strokeWidth":1,"interpolate":"monotone"},
"encoding":{"x":{"field":"d","type":"temporal"},"y":{"field":"a","type":"quantitative"}}},
{"data":{"values":[{}]},
"mark":{"type":"text","align":"left","baseline":"top","dx":3,"dy":2,"fontSize":6,"font":"Liberation Sans","color":"#000000"},
"encoding":{"x":{"datum":{"year":2007,"month":8,"date":30,"hours":18,"utc":true},"type":"temporal"},"y":{"datum":1.6208,"type":"quantitative"},"text":{"value":"EURUSD,Weekly  1.2903 1.2995 1.2843 1.2929"}}},
{"data":{"values":[
{"d":"2010-03-16","p":1.4947,"d2":"2011-04-24","p2":1.371},
{"d":"2011-06-27","p":1.5756,"d2":"2011-05-10","p2":1.524},
{"d":"2008-07-28","p":1.2235,"d2":"2010-05-09","p2":1.2069},
{"d":"2010-05-09","p":1.2069,"d2":"2012-10-06","p2":1.2093},
{"d":"2009-12-10","p":1.2854,"d2":"2010-04-17","p2":1.2046},
{"d":"2010-06-26","p":1.1902,"d2":"2012-06-17","p2":1.1879}]},
"mark":{"type":"rule","color":"#ff0000","strokeWidth":1.6},
"encoding":{"x":{"field":"d","type":"temporal"},"y":{"field":"p","type":"quantitative"},"x2":{"field":"d2"},"y2":{"field":"p2"}}},
{"data":{"values":[{"d":"2011-04-24","p":1.371}]},
"mark":{"type":"point","shape":"M0,0L-2,-0.6L-2,0.6Z","size":64,"filled":true,"color":"#ff0000","opacity":1,"angle":22},
"encoding":{"x":{"field":"d","type":"temporal"},"y":{"field":"p","type":"quantitative"}}},
{"data":{"values":[{"d":"2010-04-17","p":1.2046}]},
"mark":{"type":"point","shape":"M0,0L-2,-0.6L-2,0.6Z","size":64,"filled":true,"color":"#ff0000","opacity":1,"angle":40},
"encoding":{"x":{"field":"d","type":"temporal"},"y":{"field":"p","type":"quantitative"}}},
{"data":{"values":[{"d":"2012-06-17","p":1.1879}]},
"mark":{"type":"point","shape":"M0,0L-2,-0.6L-2,0.6Z","size":64,"filled":true,"color":"#ff0000","opacity":1,"angle":0},
"encoding":{"x":{"field":"d","type":"temporal"},"y":{"field":"p","type":"quantitative"}}},
{"data":{"values":[{"d":"2011-04-30","p":1.4876}]},
"mark":{"type":"point","shape":"M-1,0A1,0.65,0,1,1,1,0A1,0.65,0,1,1,-1,0Z","size":529,"filled":false,"color":"#ff0000","strokeWidth":1.4,"opacity":1},
"encoding":{"x":{"field":"d","type":"temporal"},"y":{"field":"p","type":"quantitative"}}},
{"data":{"values":[{"d":"2012-01-08","p":1.3306}]},
"mark":{"type":"point","shape":"M-1,0A1,0.75,0,1,1,1,0A1,0.75,0,1,1,-1,0Z","size":24649,"filled":false,"color":"#ff0000","strokeWidth":1.4,"opacity":1},
"encoding":{"x":{"field":"d","type":"temporal"},"y":{"field":"p","type":"quantitative"}}},
{"data":{"values":[{"d":"2012-07-25","p":1.2033}]},
"mark":{"type":"point","shape":"M-1,0A1,0.6,0,1,1,1,0A1,0.6,0,1,1,-1,0Z","size":625,"filled":false,"color":"#ff0000","strokeWidth":1.4,"opacity":1},
"encoding":{"x":{"field":"d","type":"temporal"},"y":{"field":"p","type":"quantitative"}}},
{"data":{"values":[{"d":"2010-06-03","p":1.1807}]},
"mark":{"type":"point","shape":"M-1,0A1,0.76,0,1,1,1,0A1,0.76,0,1,1,-1,0Z","size":625,"filled":false,"color":"#ff0000","strokeWidth":1.4,"opacity":1},
"encoding":{"x":{"field":"d","type":"temporal"},"y":{"field":"p","type":"quantitative"}}},
{"data":{"values":[
{"d":"2008-09-02","p":1.559,"t":"EURUSD sell-off as"},
{"d":"2008-09-04","p":1.5114,"t":"Greece receives an additional €130 Billion bailout"},
{"d":"2010-05-31","p":1.5851,"t":"Portugal received €116 Billion bailout"},
{"d":"2007-10-04","p":1.2854,"t":"EURUSD sets"},
{"d":"2007-10-04","p":1.233,"t":"higher low"},
{"d":"2007-10-04","p":1.1855,"t":"at 1.2044"},
{"d":"2009-06-06","p":1.3211,"t":"Post crisis"},
{"d":"2009-06-06","p":1.2735,"t":"low of"},
{"d":"2009-06-06","p":1.2259,"t":"1.1874"}]},
"mark":{"type":"text","align":"left","baseline":"alphabetic","font":"Liberation Sans","fontSize":17.5,"fontWeight":"bold","color":"#ff0000"},
"encoding":{"x":{"field":"d","type":"temporal"},"y":{"field":"p","type":"quantitative"},"text":{"field":"t"}}}
]
},
{"data":{"values":[{"p":1.2929}]},
"mark":{"type":"rule","opacity":0},
"encoding":{"y":{"field":"p","type":"quantitative","scale":{"domain":[1.1712,1.6208],"zero":false,"nice":false},
"axis":{"orient":"right","title":null,"values":[1.2929],"tickCount":100,"format":".4f","grid":false,"tickSize":24,"tickWidth":8,"tickColor":"#000000","labelColor":"#ffffff","labelPadding":-22,"labelFontSize":6,"labelOverlap":false}}}}
]
},
{
"width":644,"height":90,
"data":{"name":"px"},
"layer":[
{"mark":{"type":"rule","strokeWidth":1,"color":"#6b6b6b"},
"encoding":{
"x":{"field":"d","type":"temporal","title":null,"scale":{"type":"utc","domain":[{"year":2007,"month":8,"date":30,"hours":18,"utc":true},{"year":2013,"month":4,"date":9,"utc":true}]},
"axis":{"values":[{"year":2007,"month":9,"date":2,"utc":true},{"year":2007,"month":12,"date":23,"utc":true},{"year":2008,"month":4,"date":13,"utc":true},{"year":2008,"month":8,"date":3,"utc":true},{"year":2008,"month":11,"date":23,"utc":true},{"year":2009,"month":3,"date":15,"utc":true},{"year":2009,"month":7,"date":5,"utc":true},{"year":2009,"month":10,"date":25,"utc":true},{"year":2010,"month":2,"date":14,"utc":true},{"year":2010,"month":6,"date":6,"utc":true},{"year":2010,"month":9,"date":26,"utc":true},{"year":2011,"month":1,"date":16,"utc":true},{"year":2011,"month":5,"date":8,"utc":true},{"year":2011,"month":8,"date":28,"utc":true},{"year":2011,"month":12,"date":18,"utc":true},{"year":2012,"month":4,"date":8,"utc":true},{"year":2012,"month":7,"date":29,"utc":true},{"year":2012,"month":11,"date":18,"utc":true},{"year":2013,"month":3,"date":10,"utc":true}],"tickCount":100,"labels":false,"ticks":false,"grid":true,"labelOverlap":false}},
"y":{"field":"m","type":"quantitative","title":null,"scale":{"domain":[-0.0755,0.04711],"zero":false,"nice":false},
"axis":{"orient":"right","title":null,"values":[0.04711,0,-0.0755],"tickCount":100,"labelExpr":"datum.value > 0.01 ? '0.04711' : (datum.value < -0.01 ? '-0.0755' : '0.00')","grid":false,"tickSize":2,"labelPadding":1,"labelFlush":true,"labelOverlap":false}},
"y2":{"datum":0}}},
{"mark":{"type":"line","color":"#ff3030","strokeWidth":1,"strokeDash":[2,2]},
"encoding":{"x":{"field":"d","type":"temporal"},"y":{"field":"s","type":"quantitative"}}},
{"data":{"values":[{}]},
"mark":{"type":"text","align":"left","baseline":"top","dx":3,"dy":2,"fontSize":6,"font":"Liberation Sans","color":"#000000"},
"encoding":{"x":{"datum":{"year":2007,"month":8,"date":30,"hours":18,"utc":true},"type":"temporal"},"y":{"datum":0.04711,"type":"quantitative"},"text":{"value":"MACD(12,26,9) 0.00507 0.01259"}}},
{"data":{"values":[
{"d":"2010-05-19","v":-0.0523,"d2":"2012-10-19","v2":-0.0265},
{"d":"2011-12-28","v":-0.0469,"d2":"2012-04-24","v2":-0.0387}]},
"mark":{"type":"rule","color":"#ff0000","strokeWidth":1.6},
"encoding":{"x":{"field":"d","type":"temporal"},"y":{"field":"v","type":"quantitative"},"x2":{"field":"d2"},"y2":{"field":"v2"}}},
{"data":{"values":[{"d":"2012-04-24","v":-0.0387}]},
"mark":{"type":"point","shape":"M0,0L-2,-0.6L-2,0.6Z","size":64,"filled":true,"color":"#ff0000","opacity":1,"angle":-9},
"encoding":{"x":{"field":"d","type":"temporal"},"y":{"field":"v","type":"quantitative"}}},
{"data":{"values":[{"d":"2011-03-16","v":-0.069,"t":"Higher lows confirmed"}]},
"mark":{"type":"text","align":"left","baseline":"alphabetic","font":"Liberation Sans","fontSize":17.5,"fontWeight":"bold","color":"#ff0000"},
"encoding":{"x":{"field":"d","type":"temporal"},"y":{"field":"v","type":"quantitative"},"text":{"field":"t"}}}
]
},
{
"width":644,"height":94,
"data":{"name":"px"},
"layer":[
{"mark":{"type":"line","color":"#4f8fd8","strokeWidth":1},
"encoding":{
"x":{"field":"d","type":"temporal","title":null,"scale":{"type":"utc","domain":[{"year":2007,"month":8,"date":30,"hours":18,"utc":true},{"year":2013,"month":4,"date":9,"utc":true}]},
"axis":{"values":[{"year":2007,"month":9,"date":2,"utc":true},{"year":2007,"month":12,"date":23,"utc":true},{"year":2008,"month":4,"date":13,"utc":true},{"year":2008,"month":8,"date":3,"utc":true},{"year":2008,"month":11,"date":23,"utc":true},{"year":2009,"month":3,"date":15,"utc":true},{"year":2009,"month":7,"date":5,"utc":true},{"year":2009,"month":10,"date":25,"utc":true},{"year":2010,"month":2,"date":14,"utc":true},{"year":2010,"month":6,"date":6,"utc":true},{"year":2010,"month":9,"date":26,"utc":true},{"year":2011,"month":1,"date":16,"utc":true},{"year":2011,"month":5,"date":8,"utc":true},{"year":2011,"month":8,"date":28,"utc":true},{"year":2011,"month":12,"date":18,"utc":true},{"year":2012,"month":4,"date":8,"utc":true},{"year":2012,"month":7,"date":29,"utc":true},{"year":2012,"month":11,"date":18,"utc":true},{"year":2013,"month":3,"date":10,"utc":true}],"tickCount":100,"format":"%-d %b %Y","labelAlign":"left","labelFontSize":5.5,"labelFlush":false,"labelBound":false,"labelOverlap":false,"ticks":true,"tickSize":2,"labelPadding":1,"grid":true}},
"y":{"field":"r","type":"quantitative","title":null,"scale":{"domain":[0,100],"nice":false},
"axis":{"orient":"right","title":null,"values":[100,70,30,0],"tickCount":100,"grid":true,"gridOpacity":{"condition":{"test":"datum.value == 70 || datum.value == 30","value":1},"value":0},"tickSize":2,"labelPadding":1,"labelFlush":true,"labelOverlap":false}}}},
{"data":{"values":[{}]},
"mark":{"type":"text","align":"left","baseline":"top","dx":3,"dy":2,"fontSize":6,"font":"Liberation Sans","color":"#000000"},
"encoding":{"x":{"datum":{"year":2007,"month":8,"date":30,"hours":18,"utc":true},"type":"temporal"},"y":{"datum":100,"type":"quantitative"},"text":{"value":"RSI(14) 45.3340"}}},
{"data":{"values":[
{"d":"2010-04-23","v":14.9,"d2":"2012-09-30","v2":29.8},
{"d":"2012-02-17","v":18.1,"d2":"2012-07-06","v2":23.4}]},
"mark":{"type":"rule","color":"#ff0000","strokeWidth":1.6},
"encoding":{"x":{"field":"d","type":"temporal"},"y":{"field":"v","type":"quantitative"},"x2":{"field":"d2"},"y2":{"field":"v2"}}},
{"data":{"values":[{"d":"2012-07-06","v":23.4}]},
"mark":{"type":"point","shape":"M0,0L-2,-0.6L-2,0.6Z","size":64,"filled":true,"color":"#ff0000","opacity":1,"angle":-6.5},
"encoding":{"x":{"field":"d","type":"temporal"},"y":{"field":"v","type":"quantitative"}}},
{"data":{"values":[{"d":"2011-06-17","v":2,"t":"Higher lows confirmed"}]},
"mark":{"type":"text","align":"left","baseline":"alphabetic","font":"Liberation Sans","fontSize":17.5,"fontWeight":"bold","color":"#ff0000"},
"encoding":{"x":{"field":"d","type":"temporal"},"y":{"field":"v","type":"quantitative"},"text":{"field":"t"}}}
]
}
]
}
